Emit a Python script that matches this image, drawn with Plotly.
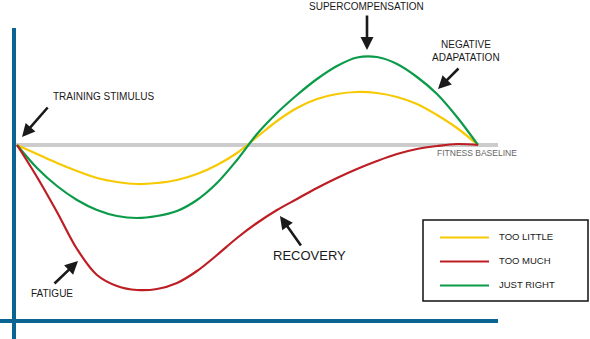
import plotly.graph_objects as go

# Data (time on x, fitness on y; y grows downward like the picture)
baseline_level = 145
time_pts = [17, 37, 57, 77, 97, 117, 137, 157, 177, 197, 217, 237, 257,
            277, 297, 317, 337, 357, 377, 397, 417, 437, 457, 478]
too_little_f = [145, 154, 163, 171, 178, 182, 184, 183, 180, 174, 165, 153, 137,
                121, 108, 99, 94, 92, 93, 97, 104, 115, 128, 145]
just_right_f = [145, 168, 186, 200, 210, 216, 218, 216, 211, 200, 183, 160, 134,
                113, 95, 79, 66, 57.5, 57, 64, 77, 94, 117, 145]
too_much_f = [145, 177, 212, 249, 275, 286, 290, 289, 283, 271, 255, 238, 223,
              210, 199, 188, 178, 169, 161, 154, 149, 146, 144, 145]

series_names = ["TOO LITTLE", "TOO MUCH", "JUST RIGHT"]
series_colors = ["#f7c900", "#bd1e24", "#0a9a48"]

fig = go.Figure()
for name, f, c in [
    (series_names[0], too_little_f, series_colors[0]),
    (series_names[2], just_right_f, series_colors[2]),
    (series_names[1], too_much_f, series_colors[1]),
]:
    fig.add_trace(go.Scatter(x=time_pts, y=f, mode="lines", name=name,
                             line=dict(color=c, width=2.2, shape="spline", smoothing=1.0),
                             showlegend=False, hoverinfo="skip"))

shapes = []
# baseline
shapes.append(dict(type="line", x0=14, x1=498, y0=baseline_level, y1=baseline_level,
                   line=dict(color="#cccccc", width=4), layer="below"))
# axes
axis_col = "#0b6592"
shapes.append(dict(type="line", x0=14, x1=14, y0=28, y1=339, line=dict(color=axis_col, width=4)))
shapes.append(dict(type="line", x0=0, x1=498, y0=321, y1=321, line=dict(color=axis_col, width=4)))
# legend box
shapes.append(dict(type="rect", x0=423, x1=588, y0=220, y1=301, line=dict(color="#111111", width=1.5)))
legend_y = [237.5, 261.5, 285.5]
for yy, c in zip(legend_y, series_colors):
    shapes.append(dict(type="line", x0=440, x1=489, y0=yy, y1=yy, line=dict(color=c, width=2.2)))

ann = []
for nm, yy in zip(series_names, legend_y):
    ann.append(dict(x=497, y=yy - 1.5, text=nm, showarrow=False, xanchor="left", yanchor="middle",
                    font=dict(family="Liberation Sans, Arial", size=9.5, color="#1a1a1a")))

def label(x, y, text, size=10, color="#1a1a1a", xanchor="center"):
    ann.append(dict(x=x, y=y, text=text, showarrow=False, xanchor=xanchor, yanchor="middle",
                    font=dict(family="Liberation Sans, Arial", size=size, color=color)))

def arrow(x0, y0, x1, y1):
    ann.append(dict(x=x1, y=y1, ax=x0, ay=y0, axref="x", ayref="y", xref="x", yref="y",
                    text="", showarrow=True, arrowhead=2, arrowsize=1.0, arrowwidth=2.6,
                    arrowcolor="#1a1a1a"))

label(366, 6, "SUPERCOMPENSATION")
arrow(367, 14, 367, 50)
label(466, 44, "NEGATIVE")
label(466, 57, "ADAPATATION")
arrow(460, 67, 438, 89)
label(103, 96, "TRAINING STIMULUS")
arrow(49, 106, 22, 137)
label(477, 153, "FITNESS BASELINE", size=8.5, color="#666666")
label(52, 293, "FATIGUE")
arrow(53, 285, 78, 261)
label(309, 255, "RECOVERY", size=13)
arrow(302, 247, 280, 216)

fig.update_layout(
    width=590, height=339, margin=dict(l=0, r=0, t=0, b=0),
    paper_bgcolor="white", plot_bgcolor="white",
    xaxis=dict(range=[0, 590], visible=False, fixedrange=True),
    yaxis=dict(range=[339, 0], visible=False, fixedrange=True),
    shapes=shapes, annotations=ann, showlegend=False,
)
fig.write_html("out.html")
